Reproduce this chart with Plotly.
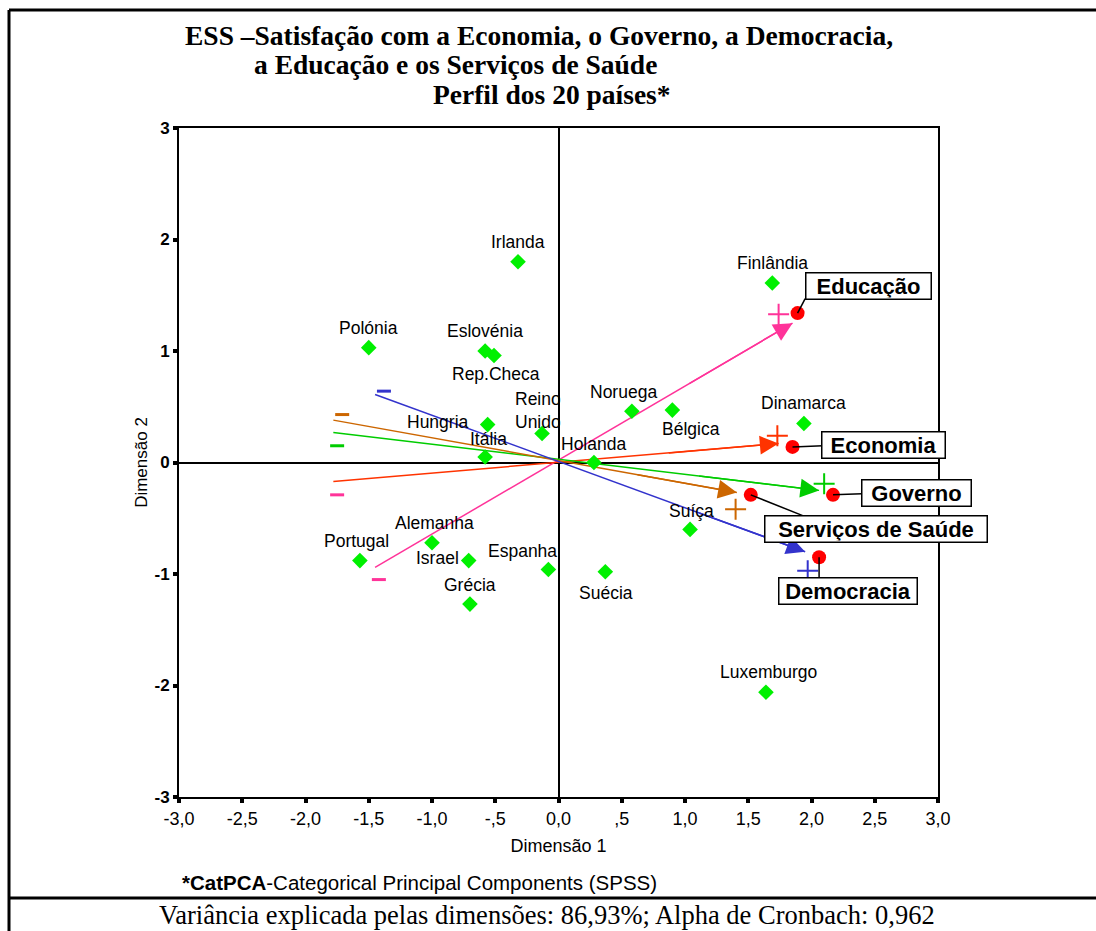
import plotly.graph_objects as go

# --- Country scores on the two CatPCA dimensions ---
countries = ["Irlanda", "Finlândia", "Polónia", "Eslovénia", "Rep.Checa", "Noruega",
             "Bélgica", "Dinamarca", "Hungria", "Reino<br>Unido", "Itália", "Holanda",
             "Suíça", "Alemanha", "Portugal", "Israel", "Espanha", "Suécia", "Grécia",
             "Luxemburgo"]
dim1 = [-0.32, 1.69, -1.50, -0.58, -0.51, 0.58, 0.90, 1.94, -0.56, -0.13, -0.58, 0.28,
        1.04, -1.00, -1.57, -0.71, -0.08, 0.37, -0.70, 1.64]
dim2 = [1.80, 1.61, 1.03, 1.00, 0.96, 0.46, 0.47, 0.35, 0.34, 0.26, 0.05, 0.00,
        -0.60, -0.72, -0.88, -0.88, -0.96, -0.98, -1.27, -2.06]
# label offsets in pixels (dx, dy) relative to each marker
label_shift = [(0, 20), (0, 20), (0, 20), (0, 20), (2, -19), (-8, 19), (19, -19), (0, 20),
               (-50, 3), (-4, 23), (3, 18), (0, 19), (1, 18), (2, 20), (-3, 20), (-31, 3),
               (-26, 19), (1, -21), (0, 19), (3, 20)]

# --- Satisfaction variables (component loadings) ---
variables = ["Educação", "Economia", "Governo", "Serviços de Saúde", "Democracia"]
var_dim1 = [1.89, 1.85, 2.17, 1.52, 2.06]
var_dim2 = [1.34, 0.14, -0.29, -0.29, -0.85]
vec_tail_dim1 = [-1.45, -1.78, -1.78, -1.78, -1.45]
vec_tail_dim2 = [-0.94, -0.17, 0.27, 0.38, 0.61]
vec_tip_dim1 = [1.85, 1.74, 2.06, 1.41, 1.95]
vec_tip_dim2 = [1.25, 0.17, -0.25, -0.27, -0.80]
plus_dim1 = [1.74, 1.73, 2.10, 1.40, 1.97]
plus_dim2 = [1.33, 0.24, -0.19, -0.42, -0.97]
minus_dim1 = [-1.42, -1.75, -1.75, -1.71, -1.38]
minus_dim2 = [-1.05, -0.29, 0.15, 0.43, 0.64]
box_dim1 = [2.45, 2.57, 2.83, 2.51, 2.29]
box_dim2 = [1.58, 0.16, -0.27, -0.60, -1.15]
leader_end_dim1 = [1.95, 2.09, 2.40, 1.96, 2.06]
leader_end_dim2 = [1.47, 0.15, -0.28, -0.49, -1.04]

vec_colors = ["#FF3399", "#FF3300", "#00CC00", "#CC6600", "#3333CC"]
minus_colors = ["#FF3399", "#FF3399", "#00CC00", "#CC6600", "#3333CC"]
box_widths = [122, 120, 106, 219, 135]

x_ticks = [-3.0, -2.5, -2.0, -1.5, -1.0, -0.5, 0.0, 0.5, 1.0, 1.5, 2.0, 2.5, 3.0]
x_ticktext = ["-3,0", "-2,5", "-2,0", "-1,5", "-1,0", "-,5", "0,0", ",5", "1,0", "1,5",
              "2,0", "2,5", "3,0"]
y_ticks = [-3, -2, -1, 0, 1, 2, 3]
y_ticktext = ["-3", "-2", "-1", "0", "1", "2", "3"]

W, H = 1096, 931
ML, MR, MT, MB = 179, 158, 128, 134
PW, PH = W - ML - MR, H - MT - MB


def px(x):
    return (x - ML) / PW


def py(y):
    return (H - MB - y) / PH


ARIAL = "Liberation Sans, Arial, sans-serif"
TIMES = "Liberation Serif, Times New Roman, serif"

fig = go.Figure()

# vector lines (negative end to positive end)
for i, v in enumerate(variables):
    fig.add_trace(go.Scatter(
        x=[vec_tail_dim1[i], vec_tip_dim1[i]], y=[vec_tail_dim2[i], vec_tip_dim2[i]],
        mode="lines", line=dict(color=vec_colors[i], width=1.5),
        hoverinfo="skip", showlegend=False))

# countries
fig.add_trace(go.Scatter(
    x=dim1, y=dim2, mode="markers",
    marker=dict(symbol="diamond", size=12, color="#00F000"),
    hovertext=[c.replace("<br>", " ") for c in countries], hoverinfo="text",
    showlegend=False))

# leader lines from variable points to their boxes
shapes = []
for i in range(len(variables)):
    shapes.append(dict(type="line", xref="x", yref="y",
                       x0=var_dim1[i], y0=var_dim2[i],
                       x1=leader_end_dim1[i], y1=leader_end_dim2[i],
                       line=dict(color="black", width=1.5), layer="above"))

# variable points
fig.add_trace(go.Scatter(
    x=var_dim1, y=var_dim2, mode="markers",
    marker=dict(symbol="circle", size=14, color="#FF0000"),
    hovertext=variables, hoverinfo="text", showlegend=False))

# + and - signs at the ends of each vector
fig.add_trace(go.Scatter(
    x=plus_dim1, y=plus_dim2, mode="markers",
    marker=dict(symbol="cross-thin", size=15, line=dict(color=vec_colors, width=2)),
    hoverinfo="skip", showlegend=False))
fig.add_trace(go.Scatter(
    x=minus_dim1, y=minus_dim2, mode="markers",
    marker=dict(symbol="line-ew", size=10, line=dict(color=minus_colors, width=3)),
    hoverinfo="skip", showlegend=False))

annotations = []

# arrowheads
for i in range(len(variables)):
    annotations.append(dict(
        x=vec_tip_dim1[i], y=vec_tip_dim2[i], xref="x", yref="y",
        ax=vec_tip_dim1[i] - 0.25 * (vec_tip_dim1[i] - vec_tail_dim1[i]),
        ay=vec_tip_dim2[i] - 0.25 * (vec_tip_dim2[i] - vec_tail_dim2[i]),
        axref="x", ayref="y", text="", showarrow=True,
        arrowhead=2, arrowsize=2.5, arrowwidth=1.5, arrowcolor=vec_colors[i],
        standoff=0, startstandoff=0))

# country labels
for c, x, y, (dx, dy) in zip(countries, dim1, dim2, label_shift):
    annotations.append(dict(
        x=x, y=y, xref="x", yref="y", text=c, showarrow=False,
        xshift=dx, yshift=dy, font=dict(family=ARIAL, size=17.5, color="black")))

# variable label boxes
for i, v in enumerate(variables):
    annotations.append(dict(
        x=box_dim1[i], y=box_dim2[i], xref="x", yref="y", text="<b>%s</b>" % v,
        showarrow=False, bgcolor="white", bordercolor="black", borderwidth=1.5,
        borderpad=1, width=box_widths[i], height=23,
        font=dict(family=ARIAL, size=22, color="black")))

# title lines
title_lines = [("ESS –Satisfação com a Economia, o Governo, a Democracia,", 183, 36),
               ("a Educação e os Serviços de Saúde", 252, 64),
               ("Perfil dos 20 países*", 431, 94)]
for t, xl, yc in title_lines:
    annotations.append(dict(
        x=px(xl), y=py(yc), xref="paper", yref="paper", xanchor="left", yanchor="middle",
        text="<b>%s</b>" % t, showarrow=False,
        font=dict(family=TIMES, size=27.5, color="black")))

# footnotes
annotations.append(dict(
    x=px(180), y=py(882), xref="paper", yref="paper", xanchor="left", yanchor="middle",
    text="<b>*CatPCA</b>-Categorical Principal Components (SPSS)", showarrow=False,
    font=dict(family=ARIAL, size=20.5, color="black")))
annotations.append(dict(
    x=px(547), y=py(915), xref="paper", yref="paper", xanchor="center", yanchor="middle",
    text="Variância explicada pelas dimensões: 86,93%; Alpha de Cronbach: 0,962",
    showarrow=False, font=dict(family=TIMES, size=26.5, color="black")))

# outer frame of the figure
for x0, y0, x1, y1 in [(9, 10, W, 10), (9, 10, 9, H), (9, 898, W, 898)]:
    shapes.append(dict(type="line", xref="paper", yref="paper",
                       x0=px(x0), y0=py(y0), x1=px(x1), y1=py(y1),
                       line=dict(color="black", width=3)))

fig.update_layout(
    width=W, height=H,
    margin=dict(l=ML, r=MR, t=MT, b=MB),
    paper_bgcolor="white", plot_bgcolor="white",
    shapes=shapes, annotations=annotations,
    xaxis=dict(range=[-3, 3], tickvals=x_ticks, ticktext=x_ticktext,
               showgrid=False, zeroline=True, zerolinecolor="black", zerolinewidth=1.5,
               showline=True, mirror=True, linecolor="black", linewidth=2,
               ticks="outside", ticklen=4, tickwidth=4, tickcolor="black",
               tickfont=dict(family=ARIAL, size=18, color="black"),
               title=dict(text="Dimensão 1", standoff=12,
                          font=dict(family=ARIAL, size=18, color="black"))),
    yaxis=dict(range=[-3, 3], tickvals=y_ticks, ticktext=y_ticktext,
               showgrid=False, zeroline=True, zerolinecolor="black", zerolinewidth=1.5,
               showline=True, mirror=True, linecolor="black", linewidth=2,
               ticks="outside", ticklen=4, tickwidth=4, tickcolor="black",
               tickfont=dict(family=ARIAL, size=17, color="black", weight="bold"),
               title=dict(text="Dimensão 2", standoff=3,
                          font=dict(family=ARIAL, size=17, color="black"))),
)

fig.write_html("out.html")
